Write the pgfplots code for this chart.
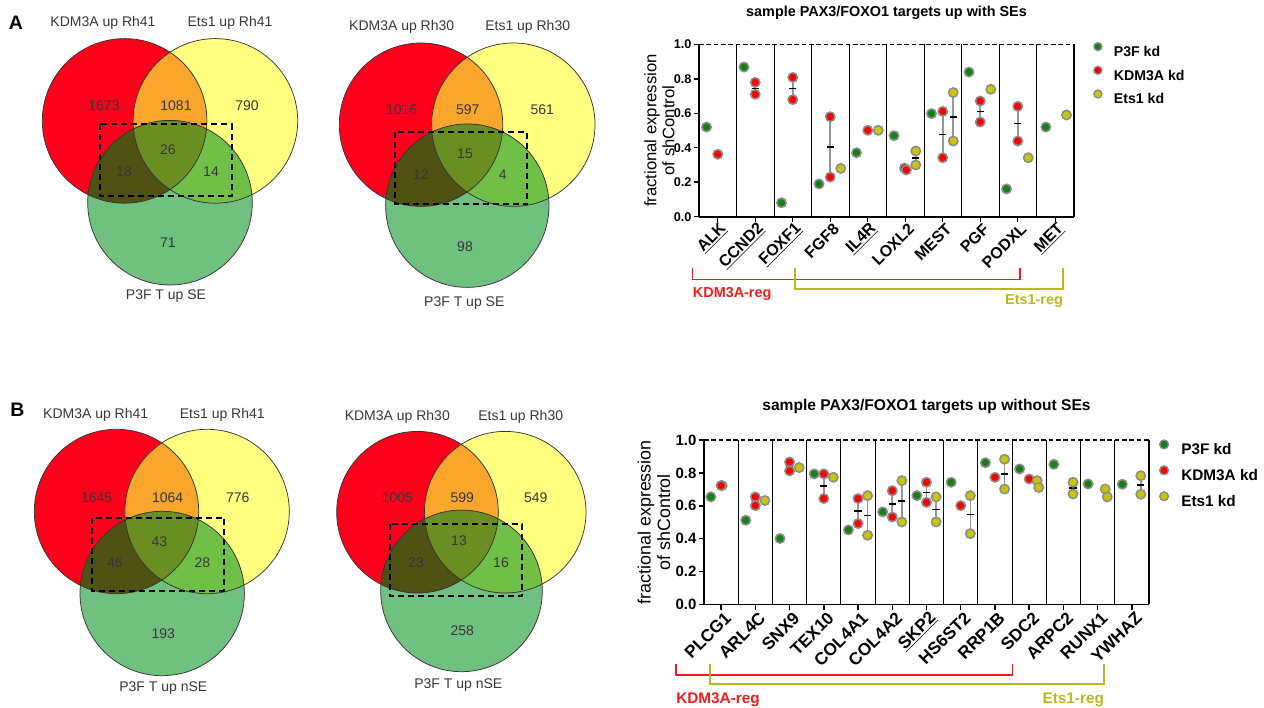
\documentclass[border=0pt]{standalone}
\usepackage{fontspec}
\setmainfont{Liberation Sans}
\usepackage{pgfplots}
\usepackage{pgfplotstable}
\pgfplotsset{compat=1.18}

\definecolor{cRed}{RGB}{255,0,28}
\definecolor{cYel}{RGB}{255,255,128}
\definecolor{cOra}{RGB}{250,166,44}
\definecolor{cGrn}{RGB}{112,192,128}
\definecolor{cRG}{RGB}{80,82,20}
\definecolor{cYG}{RGB}{112,192,72}
\definecolor{cAll}{RGB}{106,142,34}
\definecolor{vtext}{RGB}{55,55,55}
\definecolor{vline}{RGB}{50,50,50}
\definecolor{pGreen}{RGB}{22,128,22}
\definecolor{pRed}{RGB}{255,0,0}
\definecolor{pYel}{RGB}{200,198,0}
\definecolor{dotline}{RGB}{140,140,140}
\definecolor{ebar}{RGB}{150,150,150}
\definecolor{bRed}{RGB}{240,28,28}
\definecolor{bYel}{RGB}{188,184,28}

% #1 red x, #2 red/yellow y, #3 yellow x, #4 green x, #5 green y, #6 radius
\newcommand\venn[6]{%
  \fill[cRed] (axis cs:#1,#2) circle[radius=#6];
  \fill[cYel] (axis cs:#3,#2) circle[radius=#6];
  \begin{scope}
    \clip (axis cs:#1,#2) circle[radius=#6];
    \fill[cOra] (axis cs:#3,#2) circle[radius=#6];
  \end{scope}
  \fill[cGrn] (axis cs:#4,#5) circle[radius=#6];
  \begin{scope}
    \clip (axis cs:#4,#5) circle[radius=#6];
    \fill[cRG] (axis cs:#1,#2) circle[radius=#6];
    \fill[cYG] (axis cs:#3,#2) circle[radius=#6];
    \clip (axis cs:#1,#2) circle[radius=#6];
    \fill[cAll] (axis cs:#3,#2) circle[radius=#6];
  \end{scope}
  \draw[vline, line width=0.55pt] (axis cs:#1,#2) circle[radius=#6];
  \draw[vline, line width=0.55pt] (axis cs:#3,#2) circle[radius=#6];
  \draw[vline, line width=0.55pt] (axis cs:#4,#5) circle[radius=#6];
}

\pgfplotsset{
  dotax/.style={scale only axis, ymin=0, ymax=1, xmin=-0.5,
    axis x line=bottom, axis y line=left,
    axis line style={-, line width=1.3pt},
    tick align=outside, major tick length=4pt,
    tick style={black, line width=1.1pt},
    ytick={0,0.2,0.4,0.6,0.8,1}, yticklabels={0.0,0.2,0.4,0.6,0.8,1.0},
    clip=false, legend cell align=left,
    legend image code/.code={\draw[##1] plot coordinates {(0pt,3.3pt)};}},
  gpt/.style={only marks, mark=*, mark size=3.5pt, forget plot,
    mark options={draw=dotline, fill=pGreen, line width=1.15pt}},
  rpt/.style={only marks, mark=*, mark size=3.5pt, forget plot,
    mark options={draw=dotline, fill=pRed, line width=1.15pt}},
  ypt/.style={only marks, mark=*, mark size=3.5pt, forget plot,
    mark options={draw=dotline, fill=pYel, line width=1.15pt}},
  meanbar/.style={only marks, mark=-, mark size=2.7pt, forget plot,
    mark options={black, line width=1.2pt},
    error bars/.cd, y dir=both, y explicit,
    error bar style={ebar, line width=1.2pt}, error mark=none},
}

% ---------- panel A data ----------
\pgfplotstableread{
x y
-0.3 0.520
0.7 0.868
1.7 0.081
2.7 0.190
3.7 0.371
4.7 0.470
5.7 0.598
6.7 0.839
7.7 0.161
8.75 0.520
}\AG
\pgfplotstableread{
x y
0 0.362
1 0.779
1 0.710
2 0.808
2 0.679
3 0.580
3 0.230
4 0.501
4.98 0.282
5.03 0.271
6 0.611
6 0.342
7 0.671
7 0.549
8 0.640
8 0.439
}\AR
\pgfplotstableread{
x y
3.28 0.280
4.28 0.501
5.28 0.381
5.28 0.300
6.28 0.720
6.28 0.439
7.28 0.739
8.28 0.342
9.3 0.590
}\AY
\pgfplotstableread{
x y e
1 0.7445 0.0345
2 0.7435 0.0645
3 0.405 0.175
5.005 0.2765 0.0055
6 0.4765 0.1345
7 0.610 0.061
8 0.5395 0.1005
5.28 0.3405 0.0405
6.28 0.5795 0.1405
}\AM

% ---------- panel B data ----------
\pgfplotstableread{
x y
-0.3 0.654
0.72 0.512
1.72 0.401
2.72 0.794
3.72 0.453
4.72 0.563
5.72 0.662
6.72 0.743
7.72 0.862
8.72 0.824
9.72 0.852
10.72 0.733
11.72 0.731
}\BG
\pgfplotstableread{
x y
0.03 0.723
0 0.723
1 0.654
1 0.601
2 0.866
2 0.812
3 0.794
3 0.644
4 0.644
4 0.492
5 0.692
5 0.532
6 0.743
6 0.621
7 0.601
8 0.773
9 0.763
}\BR
\pgfplotstableread{
x y
1.28 0.632
2.28 0.832
3.28 0.773
4.28 0.662
4.28 0.421
5.28 0.753
5.28 0.502
6.28 0.654
6.28 0.502
7.28 0.662
7.28 0.431
8.28 0.883
8.28 0.702
9.23 0.753
9.28 0.711
10.28 0.743
10.28 0.672
11.22 0.702
11.28 0.654
12.26 0.783
12.26 0.670
}\BY
\pgfplotstableread{
x y e
1 0.6275 0.0265
2 0.839 0.027
3 0.719 0.075
4 0.568 0.076
5 0.612 0.080
6 0.682 0.061
4.28 0.5415 0.1205
5.28 0.6275 0.1255
6.28 0.578 0.076
7.28 0.5465 0.1155
8.28 0.7925 0.0905
10.28 0.7075 0.0355
12.26 0.7265 0.0565
}\BM

\begin{document}
\begin{tikzpicture}
\useasboundingbox (0,0) rectangle (948pt,530.25pt);

% ================= Venn canvas =================
\begin{axis}[at={(0pt,0pt)}, anchor=south west, scale only axis,
  width=948pt, height=530.25pt, xmin=0, xmax=1264, ymin=-707, ymax=0,
  hide axis, clip=false]
\venn{124.6}{-120.9}{215.4}{170}{-202.7}{82.3}
\venn{421}{-124.7}{513.3}{467.3}{-205.7}{81.7}
\venn{116.5}{-511.5}{207.1}{162.2}{-593.5}{82.2}
\venn{417.5}{-512.2}{505.2}{461.5}{-590.9}{80.8}

\begin{scope}[every node/.style={text=vtext, font=\fontsize{10.5}{12}\selectfont, anchor=center, inner sep=0pt}]
% A1
\node at (axis cs:103,-23) {KDM3A up Rh41};
\node at (axis cs:230,-23) {Ets1 up Rh41};
\node at (axis cs:166,-296) {P3F T up SE};
\node at (axis cs:104,-106) {1673};
\node at (axis cs:176,-106) {1081};
\node at (axis cs:247,-106) {790};
\node at (axis cs:168,-150) {26};
\node at (axis cs:124,-172) {18};
\node at (axis cs:211,-172) {14};
\node at (axis cs:168,-243) {71};
% A2
\node at (axis cs:401.7,-26.7) {KDM3A up Rh30};
\node at (axis cs:527.7,-26.7) {Ets1 up Rh30};
\node at (axis cs:464.3,-302.7) {P3F T up SE};
\node at (axis cs:401.7,-109.3) {1016};
\node at (axis cs:467.7,-109.3) {597};
\node at (axis cs:542.3,-109.3) {561};
\node at (axis cs:465,-153.3) {15};
\node at (axis cs:421,-175) {12};
\node at (axis cs:502.7,-175) {4};
\node at (axis cs:465,-246.7) {98};
% B1
\node at (axis cs:95.7,-415) {KDM3A up Rh41};
\node at (axis cs:222.3,-415) {Ets1 up Rh41};
\node at (axis cs:163.3,-687.7) {P3F T up nSE};
\node at (axis cs:96.7,-497.3) {1645};
\node at (axis cs:167.7,-497.3) {1064};
\node at (axis cs:237.7,-497.3) {776};
\node at (axis cs:159.3,-541.7) {43};
\node at (axis cs:115,-562.7) {46};
\node at (axis cs:202.3,-562.7) {28};
\node at (axis cs:163.3,-634) {193};
% B2
\node at (axis cs:397.3,-416.7) {KDM3A up Rh30};
\node at (axis cs:520.7,-416.7) {Ets1 up Rh30};
\node at (axis cs:458.3,-685) {P3F T up nSE};
\node at (axis cs:397.3,-497.3) {1005};
\node at (axis cs:462.3,-497.3) {599};
\node at (axis cs:535.7,-497.3) {549};
\node at (axis cs:459,-540.7) {13};
\node at (axis cs:416,-562.7) {23};
\node at (axis cs:501,-562.7) {16};
\node at (axis cs:462.3,-630.7) {258};
\end{scope}

\begin{scope}[black, line width=1.4pt, dash pattern=on 4.5pt off 3pt]
\draw (axis cs:100,-124) rectangle (axis cs:231.7,-196);
\draw (axis cs:395,-131.7) rectangle (axis cs:527.3,-204);
\draw (axis cs:92.3,-517.7) rectangle (axis cs:224,-590.7);
\draw (axis cs:390,-524) rectangle (axis cs:522.3,-595.7);
\end{scope}

\node[font=\fontsize{14.6}{16}\selectfont\bfseries, anchor=center] at (axis cs:16,-23) {A};
\node[font=\fontsize{14.6}{16}\selectfont\bfseries, anchor=center] at (axis cs:17.5,-409.7) {B};
\end{axis}

% ================= Dot plot A =================
\begin{axis}[dotax, at={(524.25pt,367.725pt)}, anchor=south west,
  width=281.25pt, height=129.3pt, xmax=9.5,
  xtick={0,...,9},
  xticklabels={\underline{ALK},\underline{CCND2},\underline{FOXF1},FGF8,\underline{IL4R},LOXL2,MEST,PGF,PODXL,\underline{MET}},
  xticklabel style={rotate=45, anchor=east, inner sep=1pt, xshift=2pt, yshift=-5.5pt, font=\fontsize{12}{14}\selectfont\bfseries},
  yticklabel style={inner sep=1.5pt, font=\fontsize{9.5}{11}\selectfont\bfseries},
  title={sample PAX3/FOXO1 targets up with SEs},
  title style={at={(axis description cs:0.5,1.137)}, anchor=center, font=\fontsize{10.8}{12}\selectfont\bfseries},
  ylabel={fractional expression\\of shControl},
  ylabel style={at={(axis description cs:-0.1053,0.5)}, anchor=center, align=center, font=\fontsize{12.5}{13.5}\selectfont},
  legend style={at={(axis description cs:1.053,1.01)}, anchor=north west, draw=none, fill=none,
    inner sep=0pt, outer sep=0pt, row sep=7.5pt, column sep=9pt,
    font=\fontsize{10.6}{12}\selectfont\bfseries,
    nodes={inner sep=0pt, text height=8pt, text depth=0pt}},
]
\pgfplotsinvokeforeach{0,...,8}{\draw[black, line width=0.7pt] (axis cs:#1.5,0) -- (axis cs:#1.5,1);}
\draw[black, line width=1.2pt] (axis cs:9.5,0) -- (axis cs:9.5,1);
\draw[black, line width=1.1pt, dash pattern=on 3.5pt off 2pt] (axis cs:-0.5,1) -- (axis cs:9.5,1);

\addplot[meanbar] table[x=x, y=y, y error=e] {\AM};
\addplot[gpt] table[x=x, y=y] {\AG};
\addplot[rpt] table[x=x, y=y] {\AR};
\addplot[ypt] table[x=x, y=y] {\AY};

\addlegendimage{mark=*, mark size=3pt, draw=dotline, fill=pGreen, line width=1pt}
\addlegendentry{P3F kd}
\addlegendimage{mark=*, mark size=3pt, draw=dotline, fill=pRed, line width=1pt}
\addlegendentry{KDM3A kd}
\addlegendimage{mark=*, mark size=3pt, draw=dotline, fill=pYel, line width=1pt}
\addlegendentry{Ets1 kd}

\draw[bRed, line width=1.1pt] (axis cs:-0.668,-0.299) -- (axis cs:-0.668,-0.363) -- (axis cs:8.06,-0.363) -- (axis cs:8.06,-0.299);
\draw[bYel, line width=1.1pt] (axis cs:2.06,-0.299) -- (axis cs:2.06,-0.419) -- (axis cs:9.21,-0.419) -- (axis cs:9.21,-0.299);
\node[anchor=west, inner sep=0pt, text=bRed, font=\fontsize{10.8}{12}\selectfont\bfseries] at (axis cs:-0.668,-0.45) {KDM3A-reg};
\node[anchor=east, inner sep=0pt, text=bYel, font=\fontsize{10.8}{12}\selectfont\bfseries] at (axis cs:9.21,-0.49) {Ets1-reg};
\end{axis}

% ================= Dot plot B =================
\begin{axis}[dotax, at={(528pt,76.875pt)}, anchor=south west,
  width=333.75pt, height=123.375pt, xmax=12.5,
  xtick={0,...,12},
  xticklabels={PLCG1,ARL4C,SNX9,TEX10,COL4A1,COL4A2,\underline{SKP2},HS6ST2,RRP1B,SDC2,ARPC2,RUNX1,YWHAZ},
  xticklabel style={rotate=45, anchor=east, inner sep=1pt, xshift=2pt, yshift=-6.5pt, font=\fontsize{12.9}{15}\selectfont\bfseries},
  yticklabel style={inner sep=1.5pt, font=\fontsize{11.2}{13}\selectfont\bfseries},
  title={sample PAX3/FOXO1 targets up without SEs},
  title style={at={(axis description cs:0.5,1.158)}, anchor=center, font=\fontsize{11.7}{13}\selectfont\bfseries},
  ylabel={fractional expression\\of shControl},
  ylabel style={at={(axis description cs:-0.1124,0.5)}, anchor=center, align=center, font=\fontsize{13.4}{14.8}\selectfont},
  legend style={at={(axis description cs:1.024,1.0)}, anchor=north west, draw=none, fill=none,
    inner sep=0pt, outer sep=0pt, row sep=8.6pt, column sep=9.6pt,
    font=\fontsize{11.5}{13}\selectfont\bfseries,
    nodes={inner sep=0pt, text height=8.5pt, text depth=0pt}},
]
\pgfplotsinvokeforeach{0,...,11}{\draw[black, line width=0.7pt] (axis cs:#1.5,0) -- (axis cs:#1.5,1);}
\draw[black, line width=1.2pt] (axis cs:12.5,0) -- (axis cs:12.5,1);
\draw[black, line width=1.1pt, dash pattern=on 3.5pt off 2pt] (axis cs:-0.5,1) -- (axis cs:12.5,1);

\addplot[meanbar] table[x=x, y=y, y error=e] {\BM};
\addplot[gpt] table[x=x, y=y] {\BG};
\addplot[rpt] table[x=x, y=y] {\BR};
\addplot[ypt] table[x=x, y=y] {\BY};

\addlegendimage{mark=*, mark size=3.3pt, draw=dotline, fill=pGreen, line width=1pt}
\addlegendentry{P3F kd}
\addlegendimage{mark=*, mark size=3.3pt, draw=dotline, fill=pRed, line width=1pt}
\addlegendentry{KDM3A kd}
\addlegendimage{mark=*, mark size=3.3pt, draw=dotline, fill=pYel, line width=1pt}
\addlegendentry{Ets1 kd}

\draw[bRed, line width=1.1pt] (axis cs:-1.318,-0.362) -- (axis cs:-1.318,-0.429) -- (axis cs:8.507,-0.429) -- (axis cs:8.507,-0.362);
\draw[bYel, line width=1.1pt] (axis cs:-0.325,-0.362) -- (axis cs:-0.325,-0.483) -- (axis cs:11.19,-0.483) -- (axis cs:11.19,-0.362);
\node[anchor=west, inner sep=0pt, text=bRed, font=\fontsize{11.5}{13}\selectfont\bfseries] at (axis cs:-1.318,-0.581) {KDM3A-reg};
\node[anchor=east, inner sep=0pt, text=bYel, font=\fontsize{11.5}{13}\selectfont\bfseries] at (axis cs:11.19,-0.581) {Ets1-reg};
\end{axis}
\end{tikzpicture}
\end{document}
